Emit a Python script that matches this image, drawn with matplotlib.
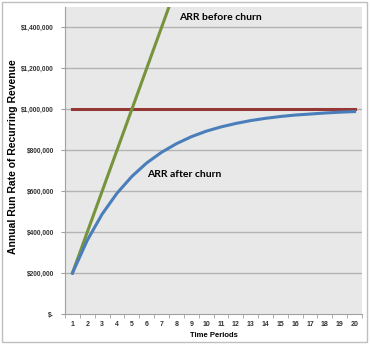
import matplotlib
matplotlib.use("Agg")
import matplotlib.pyplot as plt
from matplotlib.patches import Rectangle
from matplotlib.ticker import FuncFormatter, MultipleLocator

plt.rcParams["font.family"] = ["Liberation Sans", "DejaVu Sans"]

# time periods 1..20
periods = list(range(1, 21))

# ARR before churn (keeps growing, clipped by the axis)
arr_before = [200000, 400000, 600000, 800000, 1000000, 1200000, 1400000, 1600000,
              1800000, 2000000, 2200000, 2400000, 2600000, 2800000, 3000000,
              3200000, 3400000, 3600000, 3800000, 4000000]

# ARR after churn (levels off toward the cap)
arr_after = [200000, 360000, 488000, 590000, 672000, 738000, 790000, 832000,
             866000, 893000, 914000, 931000, 945000, 956000, 965000, 972000,
             977000, 982000, 986000, 989000]

# cap line
arr_cap = [1000000] * 20

yticks = [0, 200000, 400000, 600000, 800000, 1000000, 1200000, 1400000]

GREEN = "#77933C"
BLUE = "#4A7EBB"
RED = "#953735"


def money(v, pos=None):
    if v == 0:
        return "$-"
    return "${:,.0f}".format(v)


fig = plt.figure(figsize=(3.70, 3.44), dpi=100)
fig.patch.set_facecolor("white")
fig.patches.append(Rectangle((1.5 / 370, 2.5 / 344), 365.5 / 370, 340 / 344,
                             transform=fig.transFigure, fill=False,
                             edgecolor="#BFBFBF", linewidth=1.0))

ax = fig.add_axes([65 / 370, 30 / 344, 297 / 370, 307 / 344])
ax.set_facecolor("#E8E8E8")

for y in yticks[1:]:
    ax.axhline(y, color="#B4B4B4", linewidth=1.0, zorder=1)

ax.plot(periods, arr_cap, color=RED, linewidth=2.2, zorder=3)
ax.plot(periods, arr_before, color=GREEN, linewidth=2.2, zorder=4)
ax.plot(periods, arr_after, color=BLUE, linewidth=2.2, zorder=4)

ax.set_xlim(0.5, 20.5)
ax.set_ylim(0, 1500000)

ax.set_xticks(periods)
ax.xaxis.set_minor_locator(MultipleLocator(1, offset=0.5))
ax.tick_params(axis="x", which="major", length=0, pad=5, labelsize=5)
ax.tick_params(axis="x", which="minor", length=3, color="#A0A0A0")
ax.set_yticks(yticks)
ax.yaxis.set_major_formatter(FuncFormatter(money))
ax.tick_params(axis="y", length=3, color="#A0A0A0", pad=5, labelsize=4.7)
for lab in ax.get_xticklabels() + ax.get_yticklabels():
    lab.set_fontweight("bold")
    lab.set_color("#333333")

for s in ["top", "right"]:
    ax.spines[s].set_visible(False)
for s in ["left", "bottom"]:
    ax.spines[s].set_color("#A0A0A0")
    ax.spines[s].set_linewidth(0.8)

ax.set_xlabel("Time Periods", fontsize=5.5, fontweight="bold", labelpad=3)
fig.text(13 / 370, 1 - 157 / 344, "Annual Run Rate of Recurring Revenue",
         fontsize=7.5, fontweight="bold", rotation=90, ha="center", va="center")

ax.text(8.2, 1450000, "ARR before churn", fontsize=7.5, fontweight="bold",
        family=["Lato", "DejaVu Sans"], va="center", ha="left", color="black")
ax.text(6.05, 683000, "ARR after churn", fontsize=7.5, fontweight="bold",
        family=["Lato", "DejaVu Sans"], va="center", ha="left", color="black")

fig.savefig("out.png", dpi=100)
